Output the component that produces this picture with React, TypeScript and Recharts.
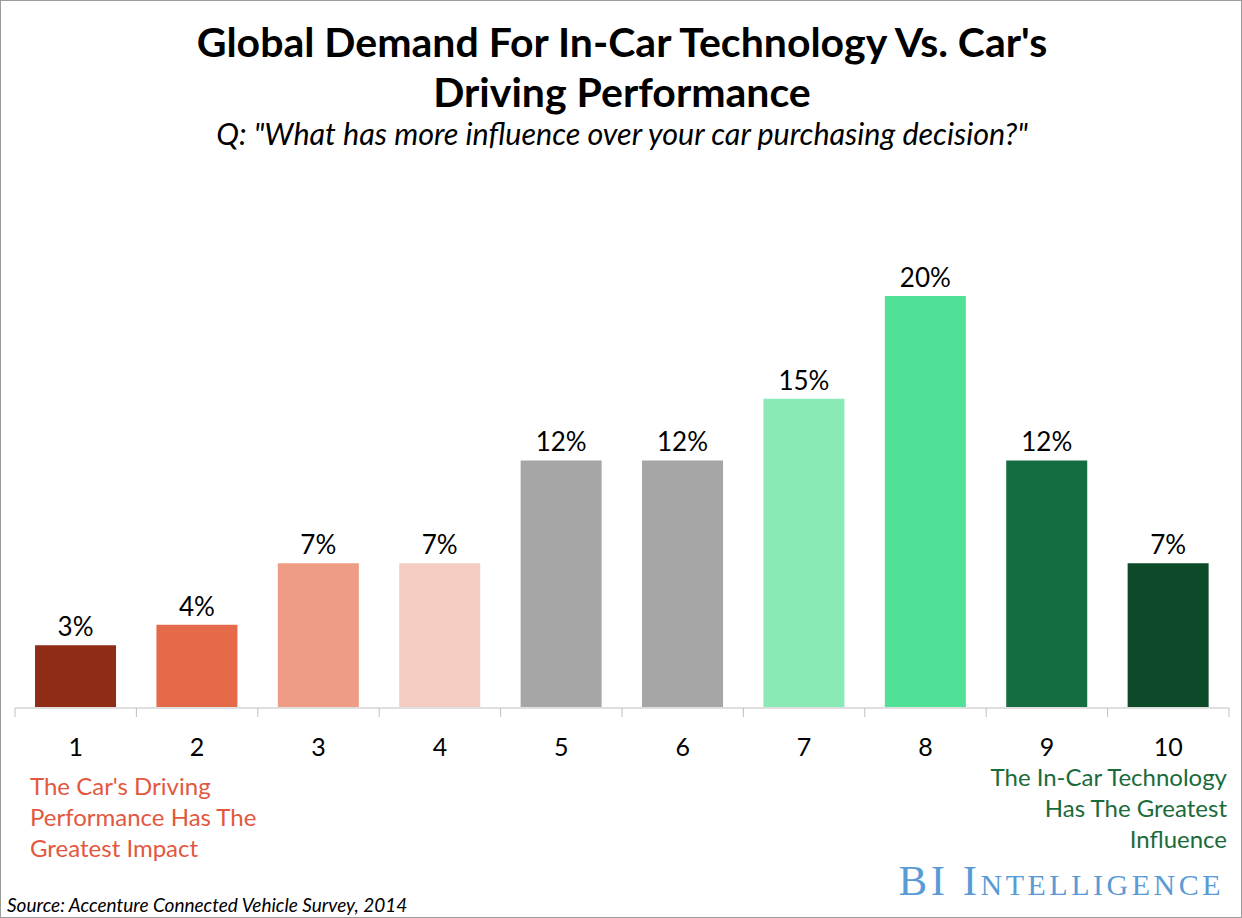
import React from 'react';
import { BarChart, Bar, XAxis, YAxis, Cell, LabelList } from 'recharts';

const ranks = ['1', '2', '3', '4', '5', '6', '7', '8', '9', '10'];
const shares = [3, 4, 7, 7, 12, 12, 15, 20, 12, 7];
const barColors = [
  '#8E2C16', '#E56A4A', '#EE9C86', '#F5CCC2', '#A6A6A6',
  '#A6A6A6', '#89EAB6', '#50E096', '#146D40', '#0D4A29',
];
const boundaryTicks = [0, 1, 2, 3, 4, 5, 6, 7, 8, 9, 10];

const data = ranks.map((r, i) => ({ rank: r, value: shares[i], pos: i + 0.5 }));

const font = 'Lato, "Open Sans", sans-serif';

export default function App() {
  return (
    <div
      style={{
        position: 'relative',
        width: 1242,
        height: 918,
        background: '#fff',
        border: '1px solid #9c9c9c',
        boxSizing: 'border-box',
        fontFamily: font,
        overflow: 'hidden',
      }}
    >
      <style>{'body{margin:0}'}</style>
      <div
        style={{
          position: 'absolute',
          top: 16,
          left: 0,
          width: 1242,
          textAlign: 'center',
          fontSize: 41,
          fontWeight: 700,
          lineHeight: '50px',
          color: '#000',
        }}
      >
        Global Demand For In-Car Technology Vs. Car's
        <br />
        Driving Performance
      </div>
      <div
        style={{
          position: 'absolute',
          top: 114,
          left: 0,
          width: 1242,
          textAlign: 'center',
          fontSize: 30.5,
          fontStyle: 'italic',
          color: '#000',
        }}
      >
        Q: "What has more influence over your car purchasing decision?"
      </div>

      <div style={{ position: 'absolute', top: 0, left: 0 }}>
        <BarChart
          width={1242}
          height={918}
          data={data}
          margin={{ top: 254, right: 14, bottom: 202, left: 14 }}
          barCategoryGap="16.5%"
        >
          <YAxis hide domain={[0, 22]} />
          <XAxis
            dataKey="rank"
            axisLine={false}
            tickLine={false}
            tickMargin={25}
            height={1}
            tick={{ fontSize: 25, fill: '#000', fontFamily: font }}
          />
          <XAxis
            xAxisId="edges"
            type="number"
            dataKey="pos"
            domain={[0, 10]}
            allowDataOverflow
            ticks={boundaryTicks}
            tickFormatter={() => ''}
            tickSize={9}
            height={9}
            axisLine={{ stroke: '#BFBFBF' }}
            tickLine={{ stroke: '#BFBFBF' }}
          />
          <Bar dataKey="value" isAnimationActive={false}>
            {data.map((d, i) => (
              <Cell key={d.rank} fill={barColors[i]} />
            ))}
            <LabelList
              dataKey="value"
              position="top"
              offset={9}
              formatter={(v: number) => `${v}%`}
              style={{ fontSize: 26, fill: '#000', fontFamily: font }}
            />
          </Bar>
        </BarChart>
      </div>

      <div
        style={{
          position: 'absolute',
          left: 29,
          top: 769,
          fontSize: 24,
          lineHeight: '31px',
          color: '#E2583E',
        }}
      >
        The Car's Driving
        <br />
        Performance Has The
        <br />
        Greatest Impact
      </div>
      <div
        style={{
          position: 'absolute',
          right: 14,
          top: 760,
          fontSize: 24,
          lineHeight: '31px',
          color: '#1B6B3A',
          textAlign: 'right',
        }}
      >
        The In-Car Technology
        <br />
        Has The Greatest
        <br />
        Influence
      </div>
      <div
        style={{
          position: 'absolute',
          right: 17,
          top: 856,
          fontSize: 43,
          fontFamily: '"Liberation Serif", "DejaVu Serif", serif',
          fontVariant: 'small-caps',
          color: '#5B9BD5',
          lineHeight: '48px',
          letterSpacing: 3.5,
        }}
      >
        BI Intelligence
      </div>
      <div
        style={{
          position: 'absolute',
          left: 6,
          top: 892,
          fontSize: 19,
          fontStyle: 'italic',
          color: '#000',
        }}
      >
        Source: Accenture Connected Vehicle Survey, 2014
      </div>
    </div>
  );
}
